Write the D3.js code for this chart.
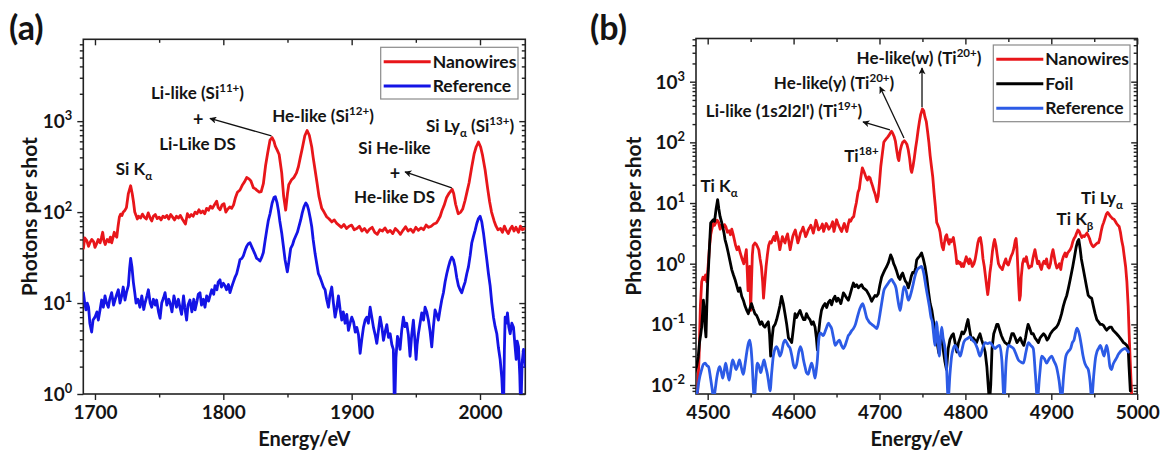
<!DOCTYPE html>
<html>
<head>
<meta charset="utf-8">
<script src="https://cdn.jsdelivr.net/npm/d3@7"></script>
<style>
  body { margin: 0; background: #fff; }
  svg text { font-family: Lato, "Open Sans", "DejaVu Sans", sans-serif; font-weight: 700; fill: #141414; }
</style>
</head>
<body>
<svg id="fig" width="1162" height="452"></svg>
<script>
// ---------- Panel (a): Si spectra, [energy eV, photons per shot] ----------
const siNanowires = [
  [1691,40],[1692,52],[1693.5,49],[1695,42],[1696,46],[1697.5,50],[1699,47],[1700,41],[1701.3,45],[1702.5,50],
  [1704,46],[1705,52],[1706,60],[1707,48],[1708,44],[1709.5,50],[1711,47],[1712,53],[1713,46],[1714,52],
  [1715,60],[1716,55],[1717,53],[1718,70],[1719,88],[1720,95],[1721,92],[1722,100],[1723.4,105],[1724.5,112],
  [1726,160],[1727.8,195],[1729,160],[1730,130],[1731,100],[1732,92],[1733,84],[1734,90],[1735.5,86],[1737,95],
  [1738.5,88],[1740,84],[1741.5,98],[1743,86],[1744.2,80],[1745.5,90],[1747,94],[1748.5,85],[1750,88],[1751.5,82],
  [1753,90],[1754.5,87],[1756,92],[1757.5,84],[1759,94],[1760.5,88],[1762,82],[1763.5,90],[1765,86],[1766.5,92],
  [1768,84],[1769.5,78],[1770.5,74],[1772,96],[1773.5,88],[1775,94],[1776.5,90],[1778,100],[1779.5,96],[1781,106],
  [1782.5,98],[1784,103],[1785.5,96],[1787,110],[1788.5,105],[1790,116],[1791.5,110],[1793,120],[1794.8,132],[1796,112],
  [1797.5,106],[1799,120],[1800.5,124],[1802,100],[1803.5,108],[1805,114],[1806.5,110],[1808,120],[1809.5,145],[1811,165],
  [1813,175],[1815,200],[1816.5,215],[1818.2,240],[1820,232],[1821.5,220],[1823.4,185],[1825,180],[1826.5,172],[1828,166],
  [1829.5,168],[1831.2,205],[1833,330],[1834.5,440],[1836.4,620],[1838,660],[1839.5,600],[1840.5,530],[1842,480],[1843.5,430],
  [1845.5,270],[1847,150],[1848.6,105],[1850,160],[1851,200],[1853,225],[1855,240],[1857,270],[1858.5,315],[1860,400],
  [1861.5,500],[1863.5,690],[1865.3,790],[1867,700],[1868.9,520],[1870,400],[1871.5,290],[1873,210],[1874.5,150],[1876.7,110],
  [1878.5,100],[1880.5,89],[1882.5,84],[1884.5,78],[1886.5,82],[1888.4,75],[1890,72],[1892,68],[1894,73],[1896,66],
  [1898,70],[1900,72],[1902,64],[1904,66],[1906,70],[1908,62],[1910,66],[1912,60],[1914,65],[1916,68],
  [1918,60],[1920,57],[1922,64],[1924,62],[1926,67],[1928,60],[1930,63],[1932,58],[1934,66],[1936,62],
  [1938,57],[1940,63],[1942,69],[1944,62],[1946,65],[1948,60],[1950,68],[1952,63],[1954,67],[1956,64],
  [1958,72],[1960,68],[1962,70],[1964,74],[1966,76],[1967.5,82],[1969,90],[1970.5,105],[1972,118],[1974,145],
  [1976,162],[1978.3,178],[1979.5,160],[1981,122],[1983,96],[1985,100],[1986.5,108],[1988.4,135],[1990,170],[1991.5,210],
  [1993.6,315],[1995.5,440],[1997,520],[1998.8,590],[2000.5,520],[2002,420],[2004,290],[2006,180],[2007.5,130],[2009,100],
  [2011,80],[2012.5,70],[2014,64],[2016,66],[2017.5,60],[2019,70],[2020.5,63],[2022,58],[2023.5,65],[2025,70],
  [2026.5,62],[2028,68],[2030,60],[2031.5,70],[2033,64],[2035,66]
];
const siReference = [
  [1691,13],[1692,10],[1693,8.4],[1694,10],[1695,9],[1696,6],[1697.4,4.8],[1698.5,6.5],[1700,7],[1701.5,8],
  [1702.6,6.5],[1704,8.5],[1705.2,10.8],[1706.5,9],[1707.8,12],[1709,10],[1710.4,9],[1711.5,11],[1713,13],[1714.5,9.5],
  [1715.6,10.8],[1717,12.5],[1718.2,14],[1719.5,10],[1720.8,12],[1722,15],[1723.4,10.8],[1724.5,13],[1726,15.5],[1727,24],
  [1727.8,31],[1728.8,25],[1729.9,17],[1731,13],[1732,10],[1733.5,11],[1735,9],[1736.5,12],[1738,8.5],[1739,10],
  [1740.5,12],[1741.6,14],[1743,10],[1744.2,9],[1745.5,11],[1747,9.5],[1748,10.8],[1749.5,8],[1750.7,6.8],[1752,10],
  [1753.5,11.5],[1754.6,13],[1756,9.5],[1757.5,11],[1758.5,10],[1760,8],[1761.5,12],[1762.3,10.8],[1763.5,9],[1765,11],
  [1766.2,9],[1767.5,7.5],[1769,12],[1770,9],[1771.4,6.5],[1772.5,9.5],[1774,10.8],[1775.5,8],[1777,11],[1778,8.4],
  [1779.5,10.5],[1780.5,12.5],[1781.8,13],[1783,9.5],[1784.5,11],[1785.7,9],[1787,12],[1788.5,10.5],[1789.6,12],[1791,14],
  [1792.5,12.5],[1793.5,15.5],[1795,14],[1796,17],[1797.4,18],[1798.5,15],[1800,16.5],[1801.3,15.5],[1802.5,14],[1804,16],
  [1805.2,13],[1806.5,15],[1807.8,17],[1809,19],[1810.4,21],[1812,26],[1813,30],[1814.5,31],[1815.6,33],[1817,38],
  [1818.2,42],[1819.5,45],[1820.8,46],[1822,42],[1823.4,38],[1824.5,35],[1826,31],[1827.5,30],[1828.6,29],[1830,32],
  [1831.2,36],[1832.5,48],[1833.8,63],[1835,80],[1836.4,96],[1838,125],[1839.5,145],[1840.5,148],[1841.8,128],[1842.9,105],
  [1844,80],[1845.5,59],[1847,40],[1848.1,30],[1849.9,22],[1851,28],[1852.5,40],[1854,44],[1855,49],[1856.5,55],
  [1857.7,60],[1859,70],[1860.3,82],[1861.5,98],[1862.9,115],[1864.3,126],[1865.5,118],[1866.5,105],[1867.8,85],[1868.9,69],
  [1870,50],[1871.5,35],[1872.8,27],[1874.1,21],[1875.5,19],[1876.7,17],[1878,15],[1879.3,14],[1880.5,11],[1881.9,9],
  [1883,12],[1884.5,15],[1885.8,10],[1887.1,7],[1888.5,9],[1889.7,12],[1891,8.5],[1892.3,6.5],[1893.5,8],[1894.9,6],
  [1896.2,7.5],[1897.5,5],[1898.8,6],[1900.1,7],[1901.5,6.2],[1902.8,4.8],[1904,5.4],[1905.3,4.5],[1906.6,2.8],[1907.9,4],
  [1909.2,5.4],[1910.5,6.5],[1911.8,7],[1913,6],[1914.4,9],[1915.7,7],[1917,5.4],[1918.3,4.5],[1919.6,3.6],[1920.9,5],
  [1922.2,7],[1923.5,5.5],[1924.8,3.9],[1926,4.8],[1927.4,5.8],[1928.7,4.2],[1930,4.6],[1931.3,3.5],[1932.5,3.1],[1933.4,0.6],
  [1934.5,2.5],[1935.7,4.3],[1936.8,3.8],[1937.7,3.1],[1939,5],[1940.3,7],[1941.6,5.5],[1942.9,6],[1944.2,4.5],[1945.5,2.6],
  [1946.8,4.5],[1948.1,6.5],[1949.2,4],[1950.2,2.4],[1951,3.5],[1952,4.6],[1953.3,6],[1954.6,7.8],[1956,6.5],[1957.2,9],
  [1958.5,8],[1959.8,6.5],[1961,5],[1962.4,3.3],[1963.7,5.5],[1965,8.4],[1966.3,7.5],[1967.6,6.5],[1968.9,8.5],[1970.2,10.8],
  [1971.5,13],[1972.8,17],[1974.1,21],[1975.4,25],[1976.7,29],[1978,32],[1979.3,30],[1980.6,25],[1981.9,19],[1983.2,15.5],
  [1984.5,14],[1985.8,13],[1987.1,15],[1988.4,17],[1989.7,21],[1991,25],[1992.3,33],[1993.6,46],[1994.9,54],[1996.2,63],
  [1997.5,75],[1998.8,85],[2000.1,90],[2001.4,78],[2002.7,59],[2004,42],[2005.3,30],[2006.6,21],[2007.9,15.5],[2009.2,10],
  [2010.5,7],[2011.8,5.5],[2013.1,4.6],[2014.4,3.2],[2015.7,2.4],[2017,1.5],[2018.3,0.6],[2019,3],[2019.6,7],[2020.5,6],
  [2021.4,7.8],[2022.4,5.5],[2023.5,4.6],[2024.8,6],[2026.1,5.4],[2027.2,3.5],[2028.2,2.4],[2029,3.8],[2030,3.3],[2031,1.6],
  [2031.8,0.6],[2032.8,2.2],[2033.9,3.1],[2035.4,2]
];

// ---------- Panel (b): Ti spectra ----------
const tiNanowires = [
  [4488,0.006],[4490,0.03],[4491.5,0.2],[4493,0.5],[4494.5,0.6],[4496,0.55],[4497.5,0.65],[4499,0.5],[4500.5,0.9],[4502,1.8],
  [4503.5,3],[4505,3.8],[4506.6,4.7],[4508,4.3],[4509.5,4.8],[4511,5.2],[4512.5,4.9],[4514.5,3.7],[4516,4.3],[4518,3.9],
  [4519.5,4.4],[4521,4.1],[4523,3.3],[4525,3.5],[4526.5,3.0],[4528,3.7],[4529.5,3.1],[4531,2.5],[4532.5,2.0],[4534,1.7],
  [4536,1.9],[4538,1.5],[4540,1.2],[4542,1.0],[4543.5,1.3],[4545,1.7],[4546,0.8],[4547,0.36],[4548,0.6],[4549,0.9],
  [4550,0.17],[4551,0.5],[4552,1.4],[4553,2.0],[4555,2.2],[4556.5,2.1],[4558,1.9],[4559.5,1.7],[4561,1.2],[4562.5,0.9],
  [4564,0.5],[4565,0.27],[4566.5,0.5],[4568,0.9],[4569.5,1.4],[4571,2.0],[4572.5,2.3],[4574,2.2],[4575.5,2.5],[4577,2.8],
  [4578.5,2.4],[4580,3.3],[4582,2.6],[4584,1.7],[4585.5,2.2],[4587,2.8],[4588.5,2.4],[4590,2.2],[4591.5,2.7],[4593,3.1],
  [4594.5,2.3],[4596,1.7],[4597.5,2.2],[4599,2.8],[4600.5,3.2],[4602,3.6],[4603.5,2.8],[4605,2.2],[4606.5,2.6],[4608,3.2],
  [4609.5,3.5],[4611,4.0],[4612.5,3.4],[4614,2.8],[4615.5,3.1],[4617,3.6],[4618.5,3.9],[4620,4.3],[4621.5,3.8],[4623,3.2],
  [4624.5,4.0],[4626,5.2],[4627.5,4.4],[4629,3.6],[4630.5,3.8],[4632,4.0],[4633.5,4.5],[4635,3.4],[4636.5,4.0],[4638,4.6],
  [4639.5,4.2],[4641,3.7],[4642.5,4.0],[4644,4.3],[4645.5,4.9],[4647,3.4],[4648.5,4.2],[4650,5.3],[4651.5,4.6],[4653,4.1],
  [4654.5,3.7],[4656,3.4],[4657.5,4.0],[4659,4.6],[4660.5,3.9],[4662,3.4],[4663.5,4.4],[4665,5.3],[4666.5,5.0],[4668,5.6],
  [4670,6.0],[4671.5,8],[4673,10],[4675,15],[4676.5,17],[4678,25],[4680,38],[4681.5,34],[4683,30],[4684.5,26],
  [4686,24],[4687.5,27],[4689,26],[4690.5,22],[4692,19],[4693.5,16],[4695,14],[4697,10.5],[4698.5,13],[4700,22],
  [4701.5,40],[4703,60],[4705,100],[4706.5,108],[4708,115],[4709.5,122],[4711,130],[4712.5,142],[4714,152],[4715.5,140],
  [4717,125],[4718.5,105],[4720,75],[4721.5,55],[4722.5,50],[4724,72],[4725.5,88],[4727,100],[4729,106],[4730.5,100],
  [4732,92],[4733.5,75],[4735,55],[4736.5,36],[4737.5,32],[4739,40],[4740.5,55],[4742,80],[4743.5,110],[4745,160],
  [4746.5,220],[4748,290],[4750,355],[4751.5,330],[4753,260],[4754.5,220],[4756,150],[4757.5,100],[4759,60],[4760.5,40],
  [4762,27],[4763.5,15],[4765,9],[4766.6,4.8],[4768,4.3],[4769.5,3.8],[4770.5,3.3],[4772,2.3],[4773,1.9],[4774.3,1.7],
  [4775.5,2.2],[4777,2.8],[4778.2,3.0],[4779.5,2.4],[4781,2.1],[4782,2.5],[4783.5,2.3],[4785,2.5],[4786,2.7],[4787.5,2.0],
  [4789,1.4],[4790,1.0],[4791.5,1.1],[4793,1.0],[4794,1.05],[4795.5,0.9],[4797,1.0],[4798,0.9],[4799.5,1.1],[4801,1.3],
  [4802.5,1.1],[4804,1.0],[4805,1.2],[4806.5,1.1],[4808,0.9],[4810,1.0],[4811.5,1.2],[4813,1.6],[4814.5,2.2],[4816,2.6],
  [4817.5,2.7],[4819,2.0],[4820.5,1.2],[4822,0.9],[4823.5,0.6],[4825,0.4],[4826,0.31],[4827,0.4],[4828.5,0.7],[4830,1.0],
  [4831.5,1.6],[4833,2.2],[4834,2.5],[4835.5,2.0],[4837,1.4],[4838.5,1.0],[4840,0.9],[4841.5,0.85],[4843,0.8],[4844.5,0.95],
  [4846,1.1],[4847,1.2],[4848.5,1.0],[4850,0.95],[4851.5,1.1],[4853,1.3],[4855,1.5],[4856.5,1.8],[4858,2.4],[4859,2.6],
  [4860,1.8],[4861,0.9],[4862,0.45],[4863,0.25],[4864,0.3],[4865,0.6],[4866.5,1.0],[4868,1.2],[4869.5,1.1],[4871,1.3],
  [4872.5,1.0],[4874,0.85],[4875.5,0.9],[4877,0.9],[4878.5,1.2],[4880,1.5],[4881,1.7],[4882.5,1.3],[4884,1.0],[4885.5,1.1],
  [4887,0.9],[4888.5,0.8],[4890,1.0],[4891.5,1.1],[4893,1.0],[4894.5,1.2],[4896,0.9],[4897.5,0.85],[4899,1.0],[4900.5,1.4],
  [4902,1.7],[4903.5,1.3],[4905,1.0],[4906.5,0.85],[4908,0.9],[4909.5,1.0],[4911,0.8],[4912.5,1.1],[4914,1.3],[4916,1.5],
  [4917.5,1.3],[4919,1.5],[4920.5,1.6],[4922,1.7],[4923.5,1.9],[4925,2.3],[4926.5,2.6],[4928,2.8],[4929.5,3.2],[4931,3.6],
  [4932.5,3.4],[4934,3.0],[4935.5,2.7],[4937,2.9],[4938.5,2.8],[4940,3.0],[4941.5,3.2],[4943,2.9],[4944.5,2.6],[4946,2.2],
  [4947.5,2.0],[4949,1.9],[4950.5,2.0],[4952,2.1],[4953.5,2.2],[4955,2.2],[4956.5,2.6],[4958,3.4],[4959.5,4.2],[4961,4.8],
  [4962.5,5.6],[4964,6.5],[4965.5,7.0],[4967,6.6],[4968.5,6.1],[4970,5.8],[4971.5,5.5],[4973,5.4],[4974.5,5.0],[4976,4.6],
  [4977.5,4.3],[4979,4.1],[4980.5,3.3],[4982,2.4],[4983.5,1.9],[4985,1.3],[4986.5,0.9],[4988,0.5],[4989.5,0.2],[4991,0.05],
  [4992.5,0.015],[4994,0.005]
];
const tiFoil = [
  [4485,0.016],[4487,0.02],[4489,0.029],[4490.5,0.05],[4492,0.07],[4493,0.09],[4494,0.15],[4495,0.25],[4496,0.18],[4497,0.09],
  [4498,0.062],[4499,0.2],[4500,0.5],[4501,0.9],[4502.3,2.2],[4503.5,4.7],[4505,5.0],[4506.6,5.3],[4508,5.0],[4509.7,7.8],
  [4511.6,11.4],[4513,8],[4514.4,6],[4516,5],[4517.5,4],[4519,3.2],[4520.2,2.5],[4522,2.0],[4524,1.5],[4526,1.1],
  [4528,0.8],[4530,0.65],[4531.8,0.55],[4533.5,0.45],[4535.7,0.35],[4537.5,0.4],[4539.6,0.29],[4541.5,0.25],[4543.5,0.2],[4545.5,0.17],
  [4547.3,0.15],[4549,0.18],[4551,0.22],[4553,0.18],[4555,0.15],[4557,0.14],[4559,0.12],[4561,0.1],[4563,0.11],[4565,0.095],
  [4566.7,0.09],[4568.5,0.1],[4570.6,0.11],[4572,0.07],[4573.3,0.03],[4575,0.06],[4576.4,0.09],[4578.5,0.1],[4580.3,0.12],[4582,0.15],
  [4584,0.2],[4586,0.29],[4588,0.22],[4590,0.15],[4592,0.1],[4594,0.06],[4596,0.055],[4597.8,0.05],[4599.5,0.08],[4601.7,0.15],
  [4603.5,0.13],[4605.5,0.15],[4607.5,0.17],[4609.5,0.14],[4611.5,0.12],[4613.3,0.12],[4615,0.15],[4617,0.13],[4619,0.12],[4621,0.1],
  [4623,0.11],[4625,0.09],[4626.5,0.06],[4627.7,0.038],[4629,0.07],[4630.8,0.12],[4632.5,0.17],[4634.5,0.2],[4636.6,0.22],[4638.5,0.19],
  [4640.5,0.23],[4642.4,0.25],[4644.3,0.21],[4646.2,0.26],[4648.2,0.29],[4650,0.24],[4651.8,0.27],[4653.3,0.25],[4655,0.22],[4656.8,0.28],
  [4658,0.33],[4660,0.3],[4662,0.27],[4663.7,0.25],[4665.5,0.3],[4667.5,0.38],[4669.6,0.48],[4671.5,0.42],[4673.5,0.45],[4675.4,0.4],
  [4677.4,0.43],[4679.3,0.45],[4681,0.4],[4683,0.38],[4685,0.36],[4687,0.32],[4689,0.28],[4690.9,0.24],[4692.8,0.27],[4694.8,0.3],
  [4696.7,0.29],[4698.6,0.32],[4700.5,0.45],[4702.5,0.6],[4704.5,0.7],[4706.4,0.8],[4708.4,0.9],[4710.5,1.05],[4713,1.4],[4715,1.2],
  [4716.5,1.0],[4718,0.9],[4720,0.75],[4722,0.6],[4723.9,0.55],[4725.5,0.65],[4727,0.7],[4728.5,0.6],[4730,0.52],[4731.8,0.48],
  [4733.6,0.4],[4735.5,0.5],[4737,0.62],[4738.6,0.72],[4740.5,0.7],[4742,0.85],[4743.3,1.15],[4745,1.25],[4747,1.35],[4749,1.5],
  [4751,1.2],[4753,0.9],[4755,0.6],[4757,0.35],[4759,0.22],[4761,0.17],[4763,0.11],[4765,0.07],[4767,0.05],[4769,0.034],
  [4770.5,0.05],[4772.4,0.062],[4774,0.04],[4776,0.025],[4778,0.018],[4780,0.04],[4782,0.056],[4784,0.065],[4786,0.07],[4788,0.05],
  [4790,0.035],[4792,0.05],[4794,0.06],[4796,0.075],[4798,0.07],[4800,0.08],[4801.5,0.1],[4803,0.12],[4805,0.08],[4807,0.056],
  [4809,0.06],[4811,0.055],[4813,0.05],[4815,0.06],[4817,0.07],[4819,0.055],[4821,0.045],[4823,0.035],[4825,0.02],[4827,0.008],
  [4828,0.005],[4829.5,0.01],[4831,0.04],[4833,0.07],[4835,0.085],[4836.5,0.1],[4838,0.1],[4840,0.08],[4842,0.065],[4844,0.056],
  [4846,0.05],[4848,0.048],[4850,0.045],[4852,0.055],[4854,0.07],[4856,0.07],[4858,0.06],[4860,0.05],[4862,0.055],[4864,0.06],
  [4866,0.05],[4868,0.045],[4870,0.06],[4871.5,0.08],[4873,0.1],[4875,0.085],[4877,0.07],[4879,0.07],[4881,0.06],[4883,0.055],
  [4885,0.05],[4887,0.06],[4889,0.065],[4891,0.07],[4893,0.065],[4895,0.055],[4897,0.06],[4899,0.07],[4900.5,0.075],[4902,0.08],
  [4904,0.085],[4906,0.09],[4908,0.1],[4910,0.12],[4912,0.15],[4914,0.2],[4916,0.25],[4918,0.3],[4920,0.4],[4922,0.55],
  [4923.5,0.7],[4925,0.9],[4927,1.3],[4929,1.9],[4930.5,2.3],[4932,2.5],[4933.5,1.8],[4935,1.2],[4937,0.85],[4939,0.6],
  [4941,0.42],[4943,0.3],[4945,0.28],[4947,0.27],[4949,0.2],[4951,0.15],[4953,0.12],[4955,0.11],[4957,0.1],[4959,0.1],
  [4961,0.095],[4963,0.085],[4964.5,0.08],[4966,0.085],[4968,0.09],[4970,0.09],[4972,0.08],[4974,0.075],[4976,0.07],[4978,0.065],
  [4980,0.06],[4982,0.055],[4984,0.05],[4986,0.048],[4988,0.045],[4989.5,0.04],[4990.5,0.02],[4992,0.008]
];
const tiReference = [
  [4487,0.006],[4490,0.012],[4493,0.018],[4495,0.022],[4497,0.023],[4499,0.021],[4501,0.02],[4503,0.014],[4505,0.009],[4507,0.006],
  [4509,0.009],[4510.5,0.013],[4512.5,0.018],[4514,0.02],[4516,0.016],[4517.5,0.013],[4519.5,0.018],[4521,0.023],[4523,0.016],[4525,0.012],
  [4527,0.018],[4529,0.026],[4531,0.022],[4533,0.018],[4535,0.021],[4537,0.026],[4539,0.02],[4541.5,0.015],[4543.5,0.022],[4545.4,0.034],
  [4547.3,0.048],[4549,0.055],[4550.5,0.04],[4552,0.02],[4553,0.01],[4554.3,0.006],[4556,0.012],[4557.8,0.023],[4560,0.02],[4561.7,0.016],
  [4563.5,0.02],[4565.6,0.026],[4567.5,0.02],[4569.5,0.015],[4571,0.011],[4572.6,0.008],[4574.5,0.016],[4576.4,0.03],[4578.5,0.04],[4580,0.043],
  [4582,0.038],[4584,0.03],[4586,0.035],[4588,0.048],[4590,0.055],[4592,0.05],[4594,0.044],[4596,0.04],[4598,0.03],[4600,0.021],
  [4601.7,0.019],[4603.6,0.022],[4606,0.035],[4608,0.043],[4610,0.035],[4611.5,0.026],[4613.3,0.02],[4615,0.016],[4617,0.015],[4619,0.019],
  [4621,0.023],[4623,0.018],[4625,0.013],[4626.5,0.018],[4627.7,0.026],[4629,0.05],[4630.8,0.072],[4632.5,0.07],[4634.6,0.065],[4636.5,0.075],
  [4638.5,0.09],[4640.5,0.105],[4642.5,0.095],[4644.3,0.085],[4646.5,0.06],[4648.5,0.045],[4650,0.048],[4651.5,0.052],[4653.3,0.055],[4655.5,0.046],
  [4658,0.04],[4660,0.045],[4662,0.055],[4663.7,0.065],[4665.5,0.07],[4667.5,0.078],[4669.6,0.085],[4672,0.1],[4674.2,0.13],[4676.5,0.17],
  [4678.5,0.2],[4680.4,0.22],[4682.5,0.18],[4685,0.13],[4687,0.115],[4689,0.105],[4691,0.1],[4693,0.095],[4695,0.09],[4696.7,0.085],
  [4698.5,0.1],[4700.6,0.15],[4702.5,0.22],[4705.3,0.37],[4707.5,0.42],[4710.3,0.48],[4712,0.52],[4714,0.55],[4716,0.5],[4719.2,0.4],
  [4721.5,0.25],[4724,0.17],[4726,0.25],[4728.5,0.42],[4731,0.36],[4733.6,0.25],[4736,0.3],[4738.6,0.42],[4741,0.6],[4744,0.8],
  [4746.5,0.86],[4749,0.9],[4751.5,0.7],[4754,0.42],[4756,0.29],[4758,0.2],[4760,0.13],[4761.5,0.11],[4763,0.07],[4764.6,0.045],
  [4766.6,0.11],[4768,0.06],[4769.7,0.03],[4771,0.06],[4772.4,0.09],[4774,0.06],[4776.3,0.04],[4778,0.02],[4780,0.006],[4782,0.015],
  [4784,0.03],[4786,0.04],[4788,0.045],[4790,0.04],[4792,0.035],[4794,0.03],[4796,0.038],[4798,0.05],[4799.6,0.055],[4802,0.058],
  [4805.4,0.062],[4808,0.055],[4811,0.05],[4814,0.04],[4817,0.03],[4820,0.04],[4823,0.05],[4826,0.048],[4828.6,0.05],[4831.5,0.045],
  [4834.5,0.04],[4837,0.043],[4840,0.045],[4842.5,0.025],[4845,0.006],[4847.5,0.025],[4850,0.045],[4853,0.043],[4856,0.04],[4859,0.032],
  [4861.6,0.026],[4864.5,0.024],[4867.5,0.023],[4870.5,0.035],[4873.3,0.05],[4876,0.045],[4879,0.04],[4881.5,0.015],[4883.8,0.006],[4886.5,0.015],
  [4889,0.03],[4892,0.027],[4894.6,0.023],[4897.5,0.027],[4900.4,0.03],[4903,0.025],[4906,0.02],[4909,0.012],[4912,0.006],[4914.5,0.015],
  [4917,0.03],[4920,0.036],[4922.5,0.04],[4924.5,0.05],[4926.4,0.055],[4928.5,0.075],[4930,0.087],[4932.5,0.07],[4935,0.045],[4937,0.03],
  [4939,0.023],[4941,0.02],[4943,0.018],[4945,0.012],[4947,0.006],[4949.5,0.015],[4951.5,0.028],[4953,0.035],[4955,0.04],[4957,0.045],
  [4959,0.038],[4961.4,0.03],[4963,0.038],[4964.5,0.045],[4966.5,0.032],[4968.3,0.02],[4970,0.018],[4972,0.022],[4974,0.025],[4976,0.028],
  [4978,0.032],[4980,0.035],[4982.5,0.038],[4985.8,0.04],[4989.7,0.035]
];

// ---------- Axis ticks and legend entries ----------
const xMajorA = [1700, 1800, 1900, 2000];
const xMinorA = [1750, 1850, 1950];
const decadesA = [0, 1, 2, 3];
const xMajorB = [4500, 4600, 4700, 4800, 4900, 5000];
const xMinorB = [4550, 4650, 4750, 4850, 4950];
const decadesB = [-2, -1, 0, 1, 2, 3];
const legendA = ["Nanowires", "Reference"];
const legendB = ["Nanowires", "Foil", "Reference"];

const RED = "#e8161a", BLUE_A = "#1414e6", BLUE_B = "#2c5be6", BLACK = "#000";

const svg = d3.select("#fig");

// Text with inline superscripts / subscripts: parts are strings or {sup}/{sub}
function richText(g, x, y, parts, size, anchor) {
  const t = g.append("text").attr("x", x).attr("y", y)
    .attr("font-size", size).attr("text-anchor", anchor || "middle");
  let shift = 0;
  parts.forEach(p => {
    let target = 0, txt = p, fs = size;
    if (typeof p === "object") {
      txt = p.sup !== undefined ? p.sup : p.sub;
      target = p.sup !== undefined ? -0.42 * size : 0.3 * size;
      fs = 0.68 * size;
    }
    t.append("tspan").attr("dy", target - shift).attr("font-size", fs).text(txt);
    shift = target;
  });
  return t;
}

function buildPanel(cfg) {
  const g = svg.append("g");
  const x = d3.scaleLinear().domain(cfg.xDomain).range([cfg.left, cfg.right]);
  const y = d3.scaleLog().domain(cfg.yDomain).range([cfg.bottom, cfg.top]);

  const clipId = "clip-" + cfg.id;
  svg.append("clipPath").attr("id", clipId).append("rect")
    .attr("x", cfg.left).attr("y", cfg.top)
    .attr("width", cfg.right - cfg.left).attr("height", cfg.bottom - cfg.top);

  // bottom axis: outward ticks with labels
  g.append("g").attr("transform", `translate(0,${cfg.bottom})`)
    .call(d3.axisBottom(x).tickValues(cfg.xMajor).tickSizeInner(6).tickSizeOuter(0).tickPadding(6).tickFormat(d3.format("d")))
    .call(a => a.selectAll("text").attr("font-size", 19).attr("fill", "#141414").attr("font-family", null))
    .call(a => a.select(".domain").remove());
  g.append("g").attr("transform", `translate(0,${cfg.bottom})`)
    .call(d3.axisBottom(x).tickValues(cfg.xMinor).tickSizeInner(3.5).tickSizeOuter(0).tickFormat(""))
    .call(a => a.select(".domain").remove());
  // top axis: inward ticks
  g.append("g").attr("transform", `translate(0,${cfg.top})`)
    .call(d3.axisTop(x).tickValues(cfg.xMajor).tickSizeInner(-6).tickSizeOuter(0).tickFormat(""))
    .call(a => a.select(".domain").remove());
  g.append("g").attr("transform", `translate(0,${cfg.top})`)
    .call(d3.axisTop(x).tickValues(cfg.xMinor).tickSizeInner(-3.5).tickSizeOuter(0).tickFormat(""))
    .call(a => a.select(".domain").remove());

  // log y ticks: decades and 2..9 minors
  const [lo, hi] = cfg.yDomain;
  const majors = cfg.decades.map(d => Math.pow(10, d));
  const minors = [];
  for (let d = Math.floor(Math.log10(lo)); d <= Math.ceil(Math.log10(hi)); d++)
    for (let k = 2; k <= 9; k++) { const v = k * Math.pow(10, d); if (v >= lo && v <= hi) minors.push(v); }

  g.append("g").attr("transform", `translate(${cfg.left},0)`)
    .call(d3.axisLeft(y).tickValues(majors).tickSizeInner(6).tickSizeOuter(0).tickFormat(""))
    .call(a => a.select(".domain").remove());
  g.append("g").attr("transform", `translate(${cfg.left},0)`)
    .call(d3.axisLeft(y).tickValues(minors).tickSizeInner(3.5).tickSizeOuter(0).tickFormat(""))
    .call(a => a.select(".domain").remove());
  g.append("g").attr("transform", `translate(${cfg.right},0)`)
    .call(d3.axisRight(y).tickValues(majors).tickSizeInner(-6).tickSizeOuter(0).tickFormat(""))
    .call(a => a.select(".domain").remove());
  g.append("g").attr("transform", `translate(${cfg.right},0)`)
    .call(d3.axisRight(y).tickValues(minors).tickSizeInner(-3.5).tickSizeOuter(0).tickFormat(""))
    .call(a => a.select(".domain").remove());
  g.selectAll(".tick line").attr("stroke", "#222").attr("stroke-width", 1.4);

  // decade labels 10^n
  cfg.decades.forEach(d => {
    richText(g, cfg.left - 11, y(Math.pow(10, d)) + 7,
      ["10", { sup: d < 0 ? "-" + Math.abs(d) : String(d) }], 19, "end");
  });

  // frame
  g.append("rect").attr("x", cfg.left).attr("y", cfg.top)
    .attr("width", cfg.right - cfg.left).attr("height", cfg.bottom - cfg.top)
    .attr("fill", "none").attr("stroke", "#222").attr("stroke-width", 1.6);

  // spectra
  const plot = g.append("g").attr("clip-path", `url(#${clipId})`);
  cfg.series.forEach(s => {
    const line = d3.line().x(d => x(d[0])).y(d => y(d[1])).curve(s.curve || d3.curveLinear);
    plot.append("path").datum(s.data).attr("d", line)
      .attr("fill", "none").attr("stroke", s.color).attr("stroke-width", 2.8)
      .attr("stroke-linejoin", "round").attr("stroke-linecap", "round");
  });

  // axis titles
  g.append("text").attr("x", (cfg.left + cfg.right) / 2).attr("y", 446)
    .attr("text-anchor", "middle").attr("font-size", 20).text("Energy/eV");
  g.append("text").attr("transform", `translate(${cfg.yTitleX},${(cfg.top + cfg.bottom) / 2}) rotate(-90)`)
    .attr("text-anchor", "middle").attr("font-size", 21).text("Photons per shot");

  // panel tag
  g.append("text").attr("x", cfg.tagX).attr("y", 40).attr("font-size", 34).text(cfg.tag);

  // legend
  const lg = g.append("g");
  lg.append("rect").attr("x", cfg.legend.x).attr("y", cfg.legend.y)
    .attr("width", cfg.legend.w).attr("height", cfg.legend.h)
    .attr("fill", "#fff").attr("stroke", "#8a8a8a").attr("stroke-width", 1.2);
  cfg.legend.names.forEach((name, i) => {
    const ry = cfg.legend.y + cfg.legend.first + i * cfg.legend.step;
    lg.append("line").attr("x1", cfg.legend.x + 3).attr("x2", cfg.legend.x + 50)
      .attr("y1", ry).attr("y2", ry).attr("stroke", cfg.series.find(s => s.name === name).color).attr("stroke-width", 3);
    lg.append("text").attr("x", cfg.legend.x + 52).attr("y", ry + 6).attr("font-size", 17.5).text(name);
  });

  // annotations
  const defs = svg.select("defs").empty() ? svg.append("defs") : svg.select("defs");
  if (svg.select("#arrowHead").empty()) {
    defs.append("marker").attr("id", "arrowHead").attr("viewBox", "0 0 10 10")
      .attr("refX", 9).attr("refY", 5).attr("markerWidth", 9).attr("markerHeight", 7)
      .attr("markerUnits", "userSpaceOnUse").attr("orient", "auto")
      .append("path").attr("d", "M0,0 L10,5 L0,10 L2.5,5 Z").attr("fill", "#111");
  }
  cfg.arrows.forEach(a => {
    g.append("line").attr("x1", x(a.from[0])).attr("y1", y(a.from[1]))
      .attr("x2", x(a.to[0])).attr("y2", y(a.to[1]))
      .attr("stroke", "#111").attr("stroke-width", 1.3).attr("marker-end", "url(#arrowHead)");
  });
  cfg.labels.forEach(l => richText(g, l.x, l.y, l.parts, l.size || 17, "middle"));
  return { x, y };
}

// Panel (a)
buildPanel({
  id: "a", tag: "(a)", tagX: 9,
  left: 83.3, right: 525.3, top: 39.3, bottom: 394,
  xDomain: [1690.9, 2035.3], yDomain: [1, Math.pow(10, 3.9)],
  xMajor: xMajorA, xMinor: xMinorA, decades: decadesA, yTitleX: 37,
  series: [
    { name: "Reference", data: siReference, color: BLUE_A },
    { name: "Nanowires", data: siNanowires, color: RED }
  ],
  legend: { x: 380.7, y: 47.3, w: 137.3, h: 51.7, first: 14.4, step: 24.3, names: legendA },
  arrows: [
    { from: [1837.5, 690], to: [1789.6, 1070] },
    { from: [1978, 185], to: [1941.6, 277] }
  ],
  labels: [
    { x: 134, y: 175, parts: ["Si K", { sub: "α" }] },
    { x: 197.5, y: 99, parts: ["Li-like (Si", { sup: "11+" }, ")"] },
    { x: 198.3, y: 126, parts: ["+"], size: 18 },
    { x: 197.5, y: 150, parts: ["Li-Like DS"] },
    { x: 323, y: 122, parts: ["He-like (Si", { sup: "12+" }, ")"] },
    { x: 470, y: 132, parts: ["Si Ly", { sub: "α" }, " (Si", { sup: "13+" }, ")"] },
    { x: 394.5, y: 154, parts: ["Si He-like"] },
    { x: 395, y: 180, parts: ["+"], size: 18 },
    { x: 394.5, y: 203, parts: ["He-like DS"] }
  ]
});

// Panel (b)
buildPanel({
  id: "b", tag: "(b)", tagX: 590,
  left: 696, right: 1137.2, top: 38.5, bottom: 394,
  xDomain: [4486.4, 5000], yDomain: [Math.pow(10, -2.148), Math.pow(10, 3.712)],
  xMajor: xMajorB, xMinor: xMinorB, decades: decadesB, yTitleX: 641,
  series: [
    { name: "Nanowires", data: tiNanowires, color: RED },
    { name: "Foil", data: tiFoil, color: BLACK },
    { name: "Reference", data: tiReference, color: BLUE_B, curve: d3.curveMonotoneX }
  ],
  legend: { x: 993.3, y: 45, w: 136.7, h: 76.7, first: 14.3, step: 24.5, names: legendB },
  arrows: [
    { from: [4749.5, 380], to: [4749.5, 1683] },
    { from: [4728.5, 118], to: [4700.6, 818] },
    { from: [4712.2, 160], to: [4680.8, 217] }
  ],
  labels: [
    { x: 919, y: 64, parts: ["He-like(w) (Ti", { sup: "20+" }, ")"] },
    { x: 834, y: 89, parts: ["He-like(y) (Ti", { sup: "20+" }, ")"] },
    { x: 784, y: 117, parts: ["Li-like (1s2l2l') (Ti", { sup: "19+" }, ")"] },
    { x: 861.5, y: 162, parts: ["Ti", { sup: "18+" }] },
    { x: 719, y: 192, parts: ["Ti K", { sub: "α" }] },
    { x: 1102, y: 204, parts: ["Ti Ly", { sub: "α" }] },
    { x: 1075, y: 225, parts: ["Ti K", { sub: "β" }] }
  ]
});
</script>
</body>
</html>
